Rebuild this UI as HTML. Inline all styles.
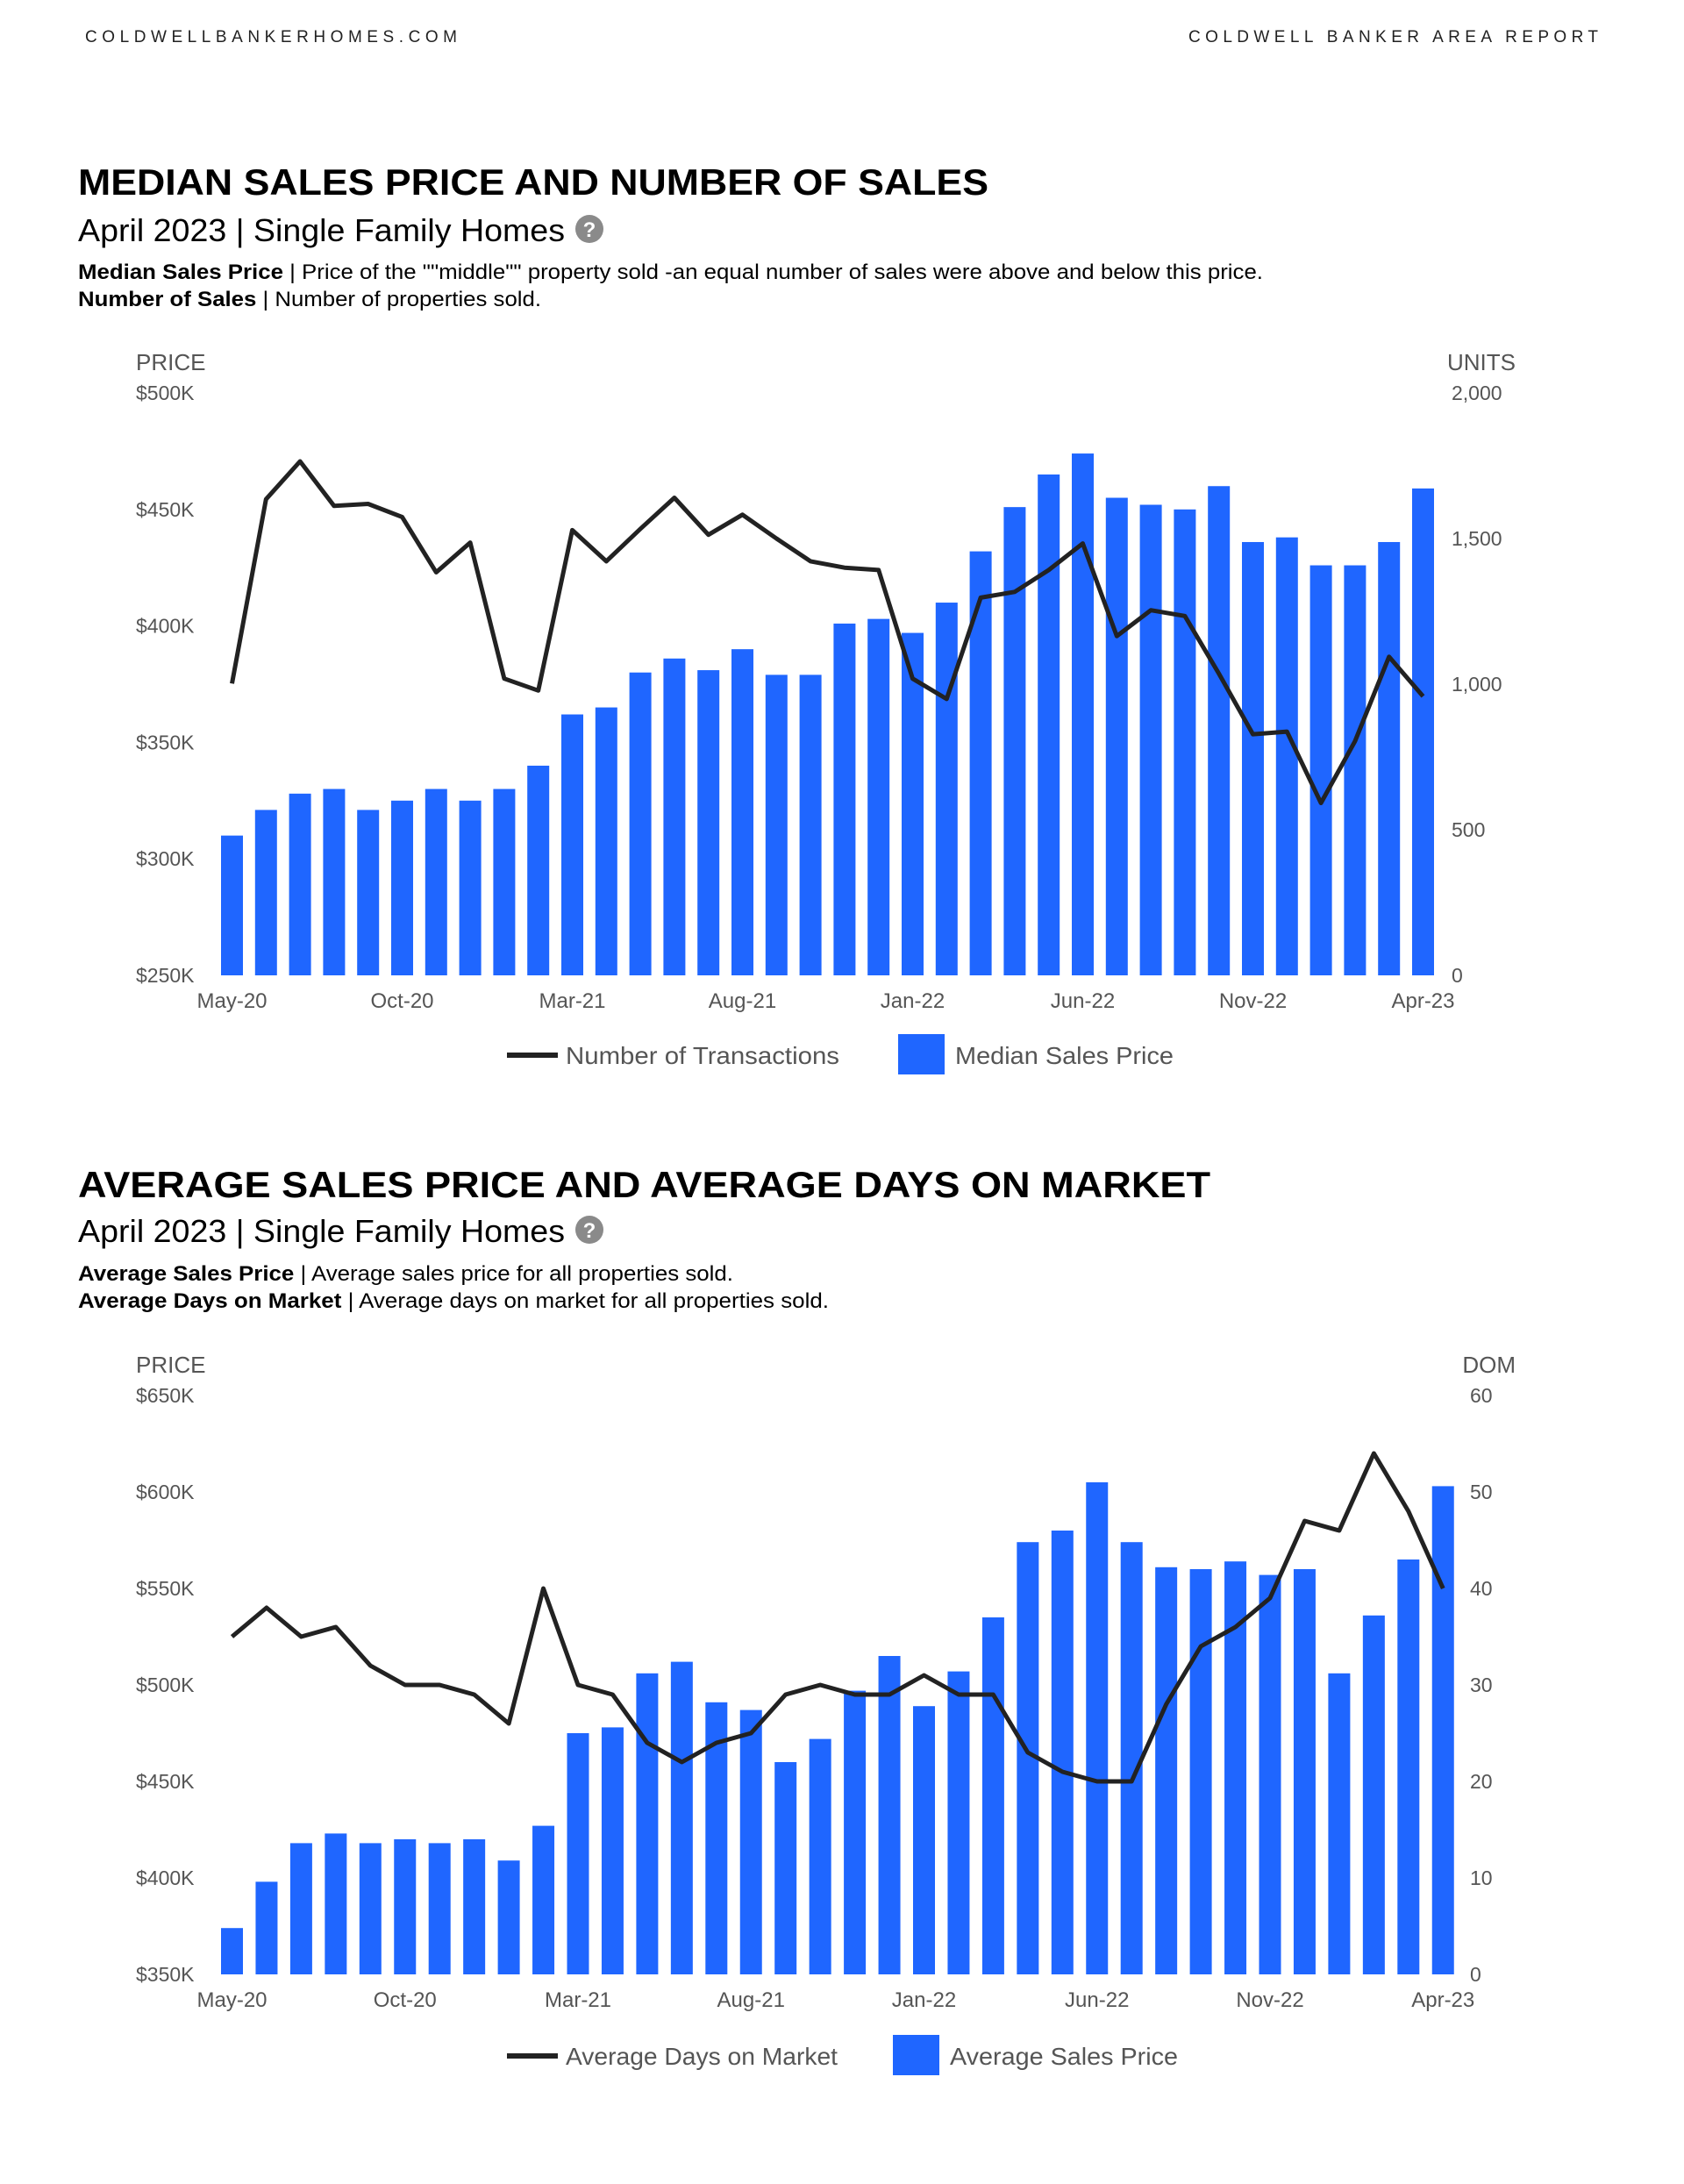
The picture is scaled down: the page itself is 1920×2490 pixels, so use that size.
<!DOCTYPE html>
<html><head><meta charset="utf-8">
<style>
body{margin:0;background:#fff;width:1920px;height:2485px;overflow:hidden;font-family:"Liberation Sans",Arial,sans-serif;}
svg text{font-family:"Liberation Sans",Arial,sans-serif;}
</style></head>
<body>
<svg id="page" width="1920" height="2485" viewBox="0 0 1920 2485" xmlns="http://www.w3.org/2000/svg">
<text x="97" y="48" font-size="19" textLength="424" lengthAdjust="spacing" fill="#222">COLDWELLBANKERHOMES.COM</text>
<text x="1355" y="48" font-size="19" textLength="467" lengthAdjust="spacing" fill="#222">COLDWELL BANKER AREA REPORT</text>

<g>
<text x="89" y="222" font-size="42" font-weight="bold" fill="#000" textLength="1038" lengthAdjust="spacingAndGlyphs">MEDIAN SALES PRICE AND NUMBER OF SALES</text>
<text x="89" y="275" font-size="36" fill="#000" textLength="555" lengthAdjust="spacingAndGlyphs">April 2023 | Single Family Homes</text>
<g><circle cx="672" cy="261" r="16" fill="#8a8a8a"/><text x="672" y="270" font-size="24" font-weight="bold" fill="#fff" text-anchor="middle">?</text></g>
<text x="89" y="318" font-size="24" fill="#000" textLength="1351" lengthAdjust="spacingAndGlyphs"><tspan font-weight="bold">Median Sales Price</tspan> | Price of the ""middle"" property sold -an equal number of sales were above and below this price.</text>
<text x="89" y="349" font-size="24" fill="#000" textLength="528" lengthAdjust="spacingAndGlyphs"><tspan font-weight="bold">Number of Sales</tspan> | Number of properties sold.</text>
</g>
<g id="chart1"></g>

<g>
<text x="89" y="1365" font-size="42" font-weight="bold" fill="#000" textLength="1291" lengthAdjust="spacingAndGlyphs">AVERAGE SALES PRICE AND AVERAGE DAYS ON MARKET</text>
<text x="89" y="1416" font-size="36" fill="#000" textLength="555" lengthAdjust="spacingAndGlyphs">April 2023 | Single Family Homes</text>
<g><circle cx="672" cy="1402" r="16" fill="#8a8a8a"/><text x="672" y="1411" font-size="24" font-weight="bold" fill="#fff" text-anchor="middle">?</text></g>
<text x="89" y="1460" font-size="24" fill="#000" textLength="747" lengthAdjust="spacingAndGlyphs"><tspan font-weight="bold">Average Sales Price</tspan> | Average sales price for all properties sold.</text>
<text x="89" y="1491" font-size="24" fill="#000" textLength="856" lengthAdjust="spacingAndGlyphs"><tspan font-weight="bold">Average Days on Market</tspan> | Average days on market for all properties sold.</text>
</g>
<g id="chart2"></g>
</svg>
<script>
const months = ["May-20","Jun-20","Jul-20","Aug-20","Sep-20","Oct-20","Nov-20","Dec-20","Jan-21","Feb-21","Mar-21","Apr-21","May-21","Jun-21","Jul-21","Aug-21","Sep-21","Oct-21","Nov-21","Dec-21","Jan-22","Feb-22","Mar-22","Apr-22","May-22","Jun-22","Jul-22","Aug-22","Sep-22","Oct-22","Nov-22","Dec-22","Jan-23","Feb-23","Mar-23","Apr-23"];
const xTickLabels = ["May-20","Oct-20","Mar-21","Aug-21","Jan-22","Jun-22","Nov-22","Apr-23"];
const medianPrice = [310,321,328,330,321,325,330,325,330,340,362,365,380,386,381,390,379,379,401,403,397,410,432,451,465,474,455,452,450,460,436,438,426,426,436,459];
const transactions = [1002,1635,1765,1612,1619,1574,1384,1486,1019,978,1529,1422,1533,1640,1513,1582,1500,1422,1400,1392,1019,949,1297,1317,1392,1483,1165,1254,1234,1036,828,837,592,804,1094,958];
const priceTicks1 = ["$250K","$300K","$350K","$400K","$450K","$500K"];
const unitTicks = ["0","500","1,000","1,500","2,000"];
const avgPrice = [374,398,418,423,418,420,418,420,409,427,475,478,506,512,491,487,460,472,497,515,489,507,535,574,580,605,574,561,560,564,557,560,506,536,565,603];
const avgDom = [35,38,35,36,32,30,30,29,26,40,30,29,24,22,24,25,29,30,29,29,31,29,29,23,21,20,20,28,34,36,39,47,46,54,48,40];
const priceTicks2 = ["$350K","$400K","$450K","$500K","$550K","$600K","$650K"];
const domTicks = ["0","10","20","30","40","50","60"];

const NS = "http://www.w3.org/2000/svg";
function mk(parent, tag, attrs){const e=document.createElementNS(NS,tag);for(const k in attrs)e.setAttribute(k,attrs[k]);parent.appendChild(e);return e;}

function drawChart(g, cfg){
  const yL = v => cfg.bottom - (v-cfg.lmin)/(cfg.lmax-cfg.lmin)*(cfg.bottom-cfg.top);
  const yR = v => cfg.bottom - (v-cfg.rmin)/(cfg.rmax-cfg.rmin)*(cfg.bottom-cfg.top);
  const x = i => cfg.x0 + i*cfg.step;
  let t = mk(g,'text',{x:155,y:cfg.top-26,'font-size':26,fill:'#555'}); t.textContent='PRICE';
   
  t = mk(g,'text',{x:1728,y:cfg.top-26,'font-size':26,fill:'#555','text-anchor':'end'}); t.textContent=cfg.rTitle;
   
  cfg.lTicks.forEach((lab,i)=>{
    const v = cfg.lmin + i*(cfg.lmax-cfg.lmin)/(cfg.lTicks.length-1);
    const e = mk(g,'text',{x:155,y:yL(v)+8,'font-size':23,fill:'#555'}); e.textContent=lab;
     
  });
  cfg.rTicks.forEach((lab,i)=>{
    const v = cfg.rmin + i*(cfg.rmax-cfg.rmin)/(cfg.rTicks.length-1);
    const e = mk(g,'text',{x:cfg.rx,y:yR(v)+8,'font-size':23,fill:'#555'}); e.textContent=lab;
     
  });
  cfg.bars.forEach((v,i)=>{
    const r = mk(g,'rect',{x:x(i)-12.5,y:yL(v),width:25,height:cfg.bottom-yL(v),fill:'#1f66ff'});
     
  });
  const pts = cfg.line.map((v,i)=>x(i).toFixed(1)+','+yR(v).toFixed(1)).join(' ');
  const pl = mk(g,'polyline',{points:pts,fill:'none',stroke:'#222','stroke-width':5,'stroke-linejoin':'round'});
   
  xTickLabels.forEach(lab=>{
    const i = months.indexOf(lab);
    const e = mk(g,'text',{x:x(i),y:cfg.bottom+37,'font-size':24,fill:'#555','text-anchor':'middle'}); e.textContent=lab;
     
  });
  const ly = cfg.legY;
  const l1 = mk(g,'line',{x1:578,x2:636,y1:ly,y2:ly,stroke:'#222','stroke-width':6});
   
  const lt1 = mk(g,'text',{x:645,y:ly+10,'font-size':28,fill:'#555',textLength:cfg.l1w,lengthAdjust:'spacingAndGlyphs'}); lt1.textContent=cfg.lineName;
   
  const sq = mk(g,'rect',{x:cfg.sqX,y:ly-24,width:53,height:46,fill:'#1f66ff'});
   
  const lt2 = mk(g,'text',{x:cfg.sqX+65,y:ly+10,'font-size':28,fill:'#555',textLength:cfg.l2w,lengthAdjust:'spacingAndGlyphs'}); lt2.textContent=cfg.barName;
   
}

drawChart(document.getElementById('chart1'),{top:448,bottom:1112,lmin:250,lmax:500,rmin:0,rmax:2000,x0:264.5,step:38.8,
  lTicks:priceTicks1,rTicks:unitTicks,rx:1655,rTitle:'UNITS',bars:medianPrice,line:transactions,legY:1203,sqX:1024,
  lineName:'Number of Transactions',barName:'Median Sales Price',l1w:312,l2w:249});
drawChart(document.getElementById('chart2'),{top:1591,bottom:2251,lmin:350,lmax:650,rmin:0,rmax:60,x0:264.5,step:39.45,
  lTicks:priceTicks2,rTicks:domTicks,rx:1676,rTitle:'DOM',bars:avgPrice,line:avgDom,legY:2344,sqX:1018,
  lineName:'Average Days on Market',barName:'Average Sales Price',l1w:310,l2w:260});
</script>
</body></html>
